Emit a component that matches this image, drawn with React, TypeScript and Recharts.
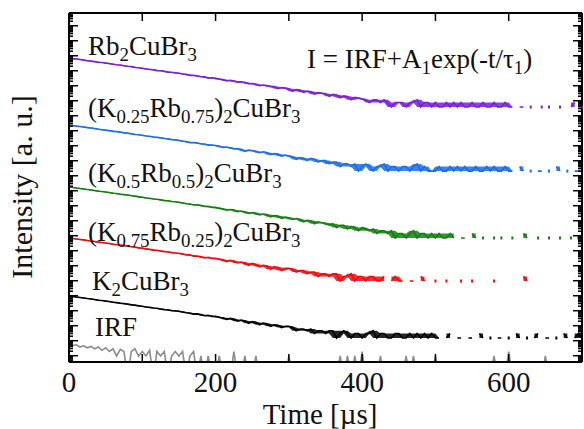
import React from 'react'
import { ComposedChart, Line, Area, XAxis, YAxis } from 'recharts'

const W = 584
const H = 429
const SERIF = '"Liberation Serif", "Times New Roman", serif'

// one reading every STEP_US µs, log10 of the counts (traces are stacked, offsets arbitrary)
// null = empty channel (no counts), -1 = zero counts drawn below the axis (IRF only)
const STEP_US = 5

const rb2 = [
  20.28, 20.23, 20.20, 20.17, 20.14, 20.09, 20.06, 20.03, 19.99, 19.97, // 0-45
  19.93, 19.90, 19.85, 19.82, 19.80, 19.75, 19.72, 19.70, 19.64, 19.62, // 50-95
  19.59, 19.54, 19.51, 19.49, 19.43, 19.42, 19.38, 19.33, 19.32, 19.28, // 100-145
  19.25, 19.20, 19.18, 19.10, 19.12, 19.07, 19.02, 19.01, 18.93, 18.95, // 150-195
  18.91, 18.86, 18.84, 18.74, 18.78, 18.74, 18.66, 18.68, 18.63, 18.55, // 200-245
  18.57, 18.52, 18.42, 18.47, 18.43, 18.36, 18.37, 18.22, 18.30, 18.26, // 250-295
  18.22, 18.05, 18.17, 18.13, 17.98, 18.07, 18.02, 17.86, 17.97, 17.92, // 300-345
  17.88, 17.72, 17.84, 17.80, 17.62, 17.74, 17.70, 17.48, 17.64, 17.60, // 350-395
  17.53, 17.48, 17.30, 17.48, 17.48, 17.30, 17.48, 17.30, 17.00, 17.30, // 400-445
  17.30, 17.30, 17.00, 17.30, 17.30, 17.48, 17.00, 17.30, 17.30, 17.00, // 450-495
  17.30, 17.00, 17.00, 17.30, 17.00, 17.30, 17.00, 17.30, 17.00, 17.00, // 500-545
  17.30, 17.00, 17.00, 17.30, 17.00, 17.00, 17.30, 17.00, 17.00, 17.30, // 550-595
  17.00, 17.00, null, 17.00, 17.00, null, 17.00, null, null, 17.00, // 600-645
  null, 17.00, null, null, 17.00, null, null, 17.00, 17.30, null, // 650-695
  17.00,
]

const k25 = [
  15.80, 15.77, 15.73, 15.70, 15.67, 15.63, 15.60, 15.57, 15.52, 15.49,
  15.46, 15.43, 15.38, 15.36, 15.33, 15.28, 15.26, 15.22, 15.17, 15.15,
  15.12, 15.07, 15.05, 15.00, 14.98, 14.95, 14.90, 14.88, 14.83, 14.81,
  14.78, 14.72, 14.70, 14.62, 14.64, 14.60, 14.54, 14.54, 14.46, 14.47,
  14.44, 14.38, 14.30, 14.33, 14.29, 14.20, 14.23, 14.16, 14.05, 14.13,
  14.10, 14.04, 13.95, 14.02, 13.96, 13.82, 13.90, 13.86, 13.72, 13.80,
  13.73, 13.68, 13.51, 13.63, 13.58, 13.43, 13.58, 13.51, 13.33, 13.43,
  13.43, 13.21, 13.33, 13.33, 13.03, 13.21, 13.21, 13.03, 13.21, 12.73,
  13.03, 13.21, 13.03, 12.73, 13.03, 13.03, 13.21, 12.73, 13.03, 13.03,
  12.73, 13.03, 13.03, 12.73, 13.03, 13.21, 12.73, 13.03, 12.73, 12.73,
  12.73, 13.03, 12.73, 12.73, 13.03, 12.73, 13.03, 12.73, 13.03, 12.73,
  12.73, 13.03, 12.73, 12.73, 13.03, 12.73, 13.03, 12.73, 12.73, 13.03,
  12.73, 12.73, null, 13.03, 12.73, null, 12.73, null, 12.73, 12.73,
  null, 12.73, null, 13.03, 12.73, null, 12.73, null, 12.73, 12.73,
  12.73,
]

const k50 = [
  11.67, 11.64, 11.60, 11.57, 11.54, 11.50, 11.47, 11.44, 11.39, 11.37,
  11.33, 11.30, 11.25, 11.23, 11.19, 11.16, 11.13, 11.08, 11.06, 11.01,
  10.99, 10.94, 10.92, 10.87, 10.85, 10.81, 10.76, 10.75, 10.70, 10.68,
  10.65, 10.60, 10.55, 10.54, 10.47, 10.48, 10.43, 10.37, 10.38, 10.30,
  10.31, 10.24, 10.22, 10.12, 10.17, 10.13, 10.02, 10.07, 10.00, 9.90,
  9.97, 9.92, 9.80, 9.87, 9.83, 9.68, 9.76, 9.73, 9.58, 9.66,
  9.62, 9.50, 9.57, 9.50, 9.35, 9.45, 9.42, 9.22, 9.35, 9.27,
  9.27, 9.12, 9.22, 8.97, 9.12, 9.12, 8.87, 9.05, 8.97, 8.75,
  8.97, 8.87, 8.75, 8.87, 8.57, 8.75, 8.75, 8.57, 8.75, 8.27,
  8.57, 8.57, 8.27, 8.57, 8.75, 8.27, 8.57, 8.57, 8.27, 8.57,
  8.27, 8.57, 8.27, 8.27, 8.57, 8.27, null, 8.27, 8.27, null,
  8.57, 8.27, null, 8.27, null, null, 8.27, null, 8.27, null,
  null, 8.27, null, null, 8.57, 8.27, null, null, 8.27, null,
  null, 8.27, null, null, 8.27, null, null, 8.27, null, 8.27,
  null,
]

const k75 = [
  8.27, 8.24, 8.20, 8.17, 8.14, 8.10, 8.07, 8.04, 7.99, 7.97,
  7.93, 7.90, 7.85, 7.83, 7.79, 7.76, 7.73, 7.68, 7.66, 7.61,
  7.59, 7.54, 7.51, 7.46, 7.45, 7.40, 7.36, 7.35, 7.29, 7.27,
  7.25, 7.20, 7.14, 7.14, 7.06, 7.07, 7.02, 6.94, 6.98, 6.90,
  6.92, 6.84, 6.82, 6.70, 6.78, 6.72, 6.60, 6.67, 6.60, 6.45,
  6.57, 6.50, 6.35, 6.45, 6.40, 6.18, 6.35, 6.30, 6.10, 6.25,
  6.25, 6.18, 6.00, 6.10, 6.10, 5.88, 6.00, 6.00, 5.70, 5.88,
  5.88, 5.70, 5.88, 5.88, 5.40, 5.70, 5.70, 5.88, 5.40, 5.70,
  5.70, 5.40, 5.70, 5.70, 5.40, 5.40, 5.70, null, 5.40, 5.70,
  5.40, 5.40, null, 5.40, 5.40, null, 5.70, 5.40, null, null,
  5.40, null, null, 5.40, null, null, null, 5.40, null, null,
  5.40, null, null, null, null, null, 5.40, null, null, null,
  null, null, null, null, 5.70, 5.40, null, null, null, null,
  null, null, null, null, null, null, null, null, null, null,
  null,
]

const k2 = [
  4.40, 4.37, 4.33, 4.30, 4.27, 4.23, 4.20, 4.17, 4.12, 4.10,
  4.06, 4.03, 3.98, 3.96, 3.92, 3.89, 3.86, 3.81, 3.79, 3.74,
  3.72, 3.67, 3.64, 3.60, 3.58, 3.53, 3.49, 3.48, 3.42, 3.41,
  3.38, 3.33, 3.28, 3.27, 3.19, 3.21, 3.15, 3.08, 3.11, 3.03,
  3.05, 2.97, 2.95, 2.84, 2.91, 2.85, 2.72, 2.80, 2.74, 2.58,
  2.70, 2.64, 2.48, 2.60, 2.55, 2.38, 2.48, 2.45, 2.30, 2.38,
  2.38, 2.30, 2.08, 2.20, 2.20, 2.08, 2.20, 1.90, 2.08, 2.08,
  1.90, 2.08, 2.08, 1.60, 1.90, 2.08, 1.90, 1.60, 1.90, 1.90,
  1.60, 1.90, 1.90, 2.08, 1.60, 1.90, 1.90, 1.60, 1.60, 1.90,
  1.90, 1.60, 1.60, 1.90, 1.60, 1.90, 1.60, 1.90, 1.60, 1.90,
  1.60, 1.60, null, 1.60, 1.90, null, 1.60, 1.60, null, 1.60,
  1.60, null, 1.90, 1.60, null, 1.60, null, 1.60, 1.60, null,
  1.60, null, 1.90, 1.60, null, 1.60, null, 1.60, 1.90, null,
  1.60, 1.60, null, 1.60, null, 1.90, 1.60, null, 1.60, 1.90,
  1.60,
]

const irf = [
  1.20, 1.10, 1.15, 1.00, 1.08, 0.95, 1.04, 0.88, 1.00, 0.78,
  0.95, 0.70, 0.88, 0.40, 0.85, 0.70, -1, 0.70, 0.88, 0.40,
  0.70, 0.40, 0.78, -1, 0.70, 0.40, 0.70, -1, 0.40, 0.70,
  0.40, 0.70, -1, 0.40, 0.70, -1, 0.40, -1, 0.40, -1,
  -1, 0.40, -1, -1, -1, 0.70, -1, -1, 0.40, -1,
  -1, 0.40, -1, -1, -1, -1, -1, -1, -1, -1,
  0.40, -1, -1, -1, -1, -1, -1, -1, -1, -1,
  -1, -1, -1, -1, 0.40, -1, 0.40, -1, 0.40, -1,
  0.70, -1, -1, -1, -1, 0.40, -1, -1, -1, -1,
  -1, -1, 0.40, -1, 0.40, -1, -1, -1, -1, -1,
  0.40, -1, -1, -1, -1, -1, -1, -1, -1, -1,
  -1, -1, -1, -1, -1, -1, 0.40, -1, -1, -1,
  0.70, -1, -1, -1, -1, -1, -1, -1, -1, -1,
  0.40, -1, -1, -1, -1, -1, -1, -1, -1, -1,
  -1,
]

const timeTicks = [0, 100, 200, 300, 400, 500, 600]
const timeLabels = [0, 200, 400, 600]
const X_MAX = 695
const Y_MAX = 23.27
const DECADE_PHASE = 0.42

// band = shade the spread between neighbouring channels so noisy stretches read as a thick trace
const series = [
  { key: 'irf', values: irf, color: '#8c8c8c', band: false },
  { key: 'k2', values: k2, color: '#000000', band: true },
  { key: 'k75', values: k75, color: '#ee0a0a', band: true },
  { key: 'k50', values: k50, color: '#118011', band: true },
  { key: 'k25', values: k25, color: '#1a6fe3', band: true },
  { key: 'rb2', values: rb2, color: '#7a1fd4', band: true },
]

const labels = [
  { text: 'Rb_{2}CuBr_{3}', x: 88, y: 55 },
  { text: 'I = IRF+A_{1}exp(-t/τ_{1})', x: 307, y: 68 },
  { text: '(K_{0.25}Rb_{0.75})_{2}CuBr_{3}', x: 88, y: 117 },
  { text: '(K_{0.5}Rb_{0.5})_{2}CuBr_{3}', x: 88, y: 182 },
  { text: '(K_{0.75}Rb_{0.25})_{2}CuBr_{3}', x: 88, y: 241 },
  { text: 'K_{2}CuBr_{3}', x: 92, y: 290 },
  { text: 'IRF', x: 95, y: 336 },
]

// log-axis tick marks: decades plus 2..9
const decadeTicks: number[] = []
for (let n = -1; n <= 24; n++) {
  for (let k = 1; k <= 9; k++) {
    const v = n + DECADE_PHASE + Math.log10(k)
    if (v >= 0 && v <= Y_MAX) decadeTicks.push(+v.toFixed(4))
  }
}
const isDecade = (v: number) => {
  const d = v - DECADE_PHASE
  return Math.abs(d - Math.round(d)) < 1e-3
}

const spread = (values: (number | null)[], i: number) => {
  const v = values[i]
  if (v == null) return null
  const near = [values[i - 1], v, values[i + 1]].filter((x) => x != null) as number[]
  return [Math.min(...near), Math.max(...near)]
}

const data = rb2.map((_, i) => {
  const row: any = { t: i * STEP_US }
  series.forEach((s) => {
    row[s.key] = s.values[i]
    if (s.band) row[s.key + 'Band'] = spread(s.values, i)
  })
  return row
})

// single channels between empty ones get a small mark, otherwise the line would skip them
const sparseDot = (values: (number | null)[], color: string) => (props: any) => {
  const { cx, cy, index } = props
  const v = values[index]
  const lonely = v != null && values[index - 1] == null && values[index + 1] == null
  if (!lonely || cx == null || cy == null) return <g key={index} />
  return <rect key={index} x={cx - 1} y={cy - 1.5} width={2} height={3} fill={color} />
}

const LeftTick = ({ x, y, payload }: any) => (
  <line x1={x} x2={x + (isDecade(payload.value) ? 9 : 4)} y1={y} y2={y} stroke="#000" strokeWidth={1.5} />
)
const RightTick = ({ x, y, payload }: any) => (
  <line x1={x} x2={x - (isDecade(payload.value) ? 9 : 4)} y1={y} y2={y} stroke="#000" strokeWidth={1.5} />
)
const BottomTick = ({ x, y, payload }: any) => (
  <g>
    <line x1={x} x2={x} y1={y} y2={y - 8} stroke="#000" strokeWidth={1.5} />
    {timeLabels.includes(payload.value) && (
      <text x={x} y={y + 30} textAnchor="middle" fontSize={29} fontFamily={SERIF} fill="#111">
        {payload.value}
      </text>
    )}
  </g>
)
const TopTick = ({ x, y }: any) => (
  <line x1={x} x2={x} y1={y} y2={y + 8} stroke="#000" strokeWidth={1.5} />
)

function ChemText({ text, x, y, size }: { text: string; x: number; y: number; size: number }) {
  const parts = text.split(/_\{([^}]*)\}/)
  const spans: React.ReactNode[] = []
  let offset = 0
  parts.forEach((p, i) => {
    if (!p) return
    const sub = i % 2 === 1
    const target = sub ? 6 : 0
    spans.push(
      <tspan key={i} dy={target - offset} fontSize={sub ? size * 0.7 : size}>{p}</tspan>
    )
    offset = target
  })
  return (
    <text x={x} y={y} fontFamily={SERIF} fontSize={size} fill="#111">{spans}</text>
  )
}

export default function App() {
  const axisLine = { stroke: '#000', strokeWidth: 2 }
  // axes get 1px of room each: Recharts skips drawing an axis that has zero size
  return (
    <div style={{ position: 'absolute', left: 0, top: 0, width: W, height: H, background: '#fff' }}>
      <ComposedChart width={W} height={H} data={data} margin={{ top: 12, right: 1, bottom: 66, left: 68 }}>
        <XAxis xAxisId="b" dataKey="t" type="number" domain={[0, X_MAX]} ticks={timeTicks} interval={0}
          orientation="bottom" height={1} tickSize={0} tickMargin={0} tickLine={false}
          axisLine={axisLine} tick={(p: any) => <BottomTick {...p} />} />
        <XAxis xAxisId="tp" dataKey="t" type="number" domain={[0, X_MAX]} ticks={timeTicks} interval={0}
          orientation="top" height={1} tickSize={0} tickMargin={0} tickLine={false}
          axisLine={axisLine} tick={(p: any) => <TopTick {...p} />} />
        <YAxis yAxisId="l" type="number" domain={[0, Y_MAX]} ticks={decadeTicks} interval={0}
          allowDataOverflow width={1} tickSize={0} tickMargin={0} tickLine={false}
          axisLine={axisLine} tick={(p: any) => <LeftTick {...p} />} />
        <YAxis yAxisId="r" orientation="right" type="number" domain={[0, Y_MAX]} ticks={decadeTicks} interval={0}
          allowDataOverflow width={1} tickSize={0} tickMargin={0} tickLine={false}
          axisLine={axisLine} tick={(p: any) => <RightTick {...p} />} />

        {series.filter((s) => s.band).map((s) => (
          <Area key={s.key + 'Band'} xAxisId="b" yAxisId="l" type="linear" dataKey={s.key + 'Band'}
            stroke="none" fill={s.color} fillOpacity={0.85} connectNulls={false}
            dot={false} activeDot={false} isAnimationActive={false} />
        ))}
        {series.map((s) => (
          <Line key={s.key} xAxisId="b" yAxisId="l" type="linear" dataKey={s.key}
            stroke={s.color} strokeWidth={1.6} connectNulls={false}
            dot={sparseDot(s.values, s.color)} activeDot={false} isAnimationActive={false} />
        ))}
      </ComposedChart>

      <svg width={W} height={H} style={{ position: 'absolute', left: 0, top: 0, pointerEvents: 'none' }}>
        {labels.map((l) => (
          <ChemText key={l.text} text={l.text} x={l.x} y={l.y} size={27} />
        ))}
        <text x={320} y={424} textAnchor="middle" fontSize={29} fontFamily={SERIF} fill="#111">Time [µs]</text>
        <text transform="translate(32,187) rotate(-90)" textAnchor="middle" fontSize={30} fontFamily={SERIF} fill="#111">
          Intensity [a. u.]
        </text>
      </svg>
    </div>
  )
}
